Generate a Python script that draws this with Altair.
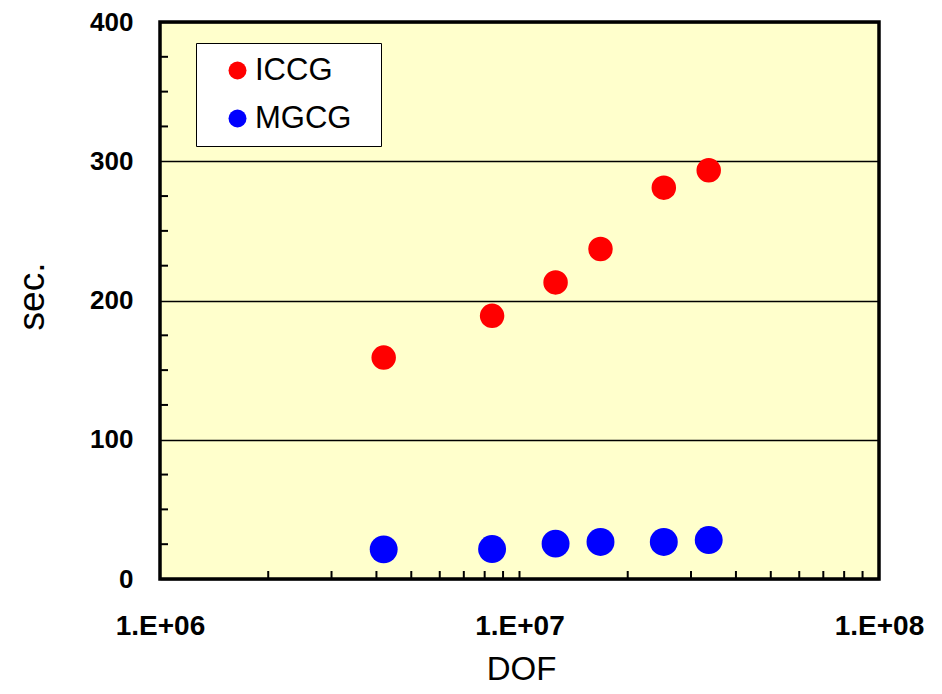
import altair as alt
import pandas as pd

# --- data ---
dof = [4.19e6, 8.39e6, 1.26e7, 1.68e7, 2.52e7, 3.36e7]
iccg = [159, 189, 213, 237, 281, 293.5]
mgcg = [21.3, 21.5, 25.4, 26.6, 26.6, 28]
series_names = ["ICCG", "MGCG"]
series_colors = ["#FF0000", "#0000FF"]

x_major = [1e6, 1e7, 1e8]
x_minor = [2e6, 3e6, 4e6, 5e6, 6e6, 7e6, 8e6, 9e6, 1e7,
           2e7, 3e7, 4e7, 5e7, 6e7, 7e7, 8e7, 9e7]
y_major = [0, 100, 200, 300, 400]
y_minor = [25, 50, 75, 125, 150, 175, 225, 250, 275, 325, 350, 375]

df = pd.DataFrame({
    "dof": dof * 2,
    "sec": iccg + mgcg,
    "series": ["ICCG"] * len(dof) + ["MGCG"] * len(dof),
})
xt = pd.DataFrame({"dof": x_minor})
yt = pd.DataFrame({"sec": y_minor})

FONT = "Liberation Sans"
W, H = 719, 557

xscale = alt.Scale(type="log", domain=[1e6, 1e8], nice=False)
yscale = alt.Scale(domain=[0, 400], nice=False, zero=True)
cscale = alt.Scale(domain=series_names, range=series_colors)

xaxis = alt.Axis(
    values=x_major, labelExpr="'1.E+0' + round(log(datum.value)/LN10)",
    grid=False, ticks=False, domain=False, labelPadding=33,
    labelFont=FONT, labelFontSize=28, labelFontWeight="bold", labelColor="black",
    title="DOF", titleFont=FONT, titleFontSize=33, titleFontWeight="normal",
    titleColor="black", titleX=361, titleY=100, titleBaseline="alphabetic",
    labelFlush=False, labelOverlap=False,
)
yaxis = alt.Axis(
    values=y_major, grid=True, gridColor="black", gridWidth=1.6, gridOpacity=1,
    ticks=False, domain=False, labelPadding=27,
    labelFont=FONT, labelFontSize=26, labelFontWeight="bold", labelColor="black",
    title="sec.", titleFont=FONT, titleFontSize=37, titleFontWeight="normal",
    titleColor="black", titleAngle=270, titleX=-117, titleY=274,
    titleAlign="center", titleBaseline="alphabetic",
)

legend = alt.Legend(
    title="\u00a0", titleOrient="right", titleFontSize=2, titlePadding=18,
    orient="none", legendX=36, legendY=21,
    fillColor="white", strokeColor="black", padding=12,
    symbolType="circle", symbolSize=324, symbolStrokeWidth=0, symbolOffset=14,
    labelFont=FONT, labelFontSize=31, labelColor="black", labelOffset=2,
    rowPadding=16,
)

X = alt.X("dof:Q", scale=xscale, axis=xaxis)
Y = alt.Y("sec:Q", scale=yscale, axis=yaxis)

iccg_layer = alt.Chart(df).transform_filter(alt.datum.series == "ICCG").mark_circle(
    size=600, opacity=1
).encode(x=X, y=Y, color=alt.Color("series:N", scale=cscale, legend=legend))
mgcg_layer = alt.Chart(df).transform_filter(alt.datum.series == "MGCG").mark_circle(
    size=780, opacity=1
).encode(x=X, y=Y, color=alt.Color("series:N", scale=cscale, legend=legend))

xtick_layer = alt.Chart(xt).mark_rule(color="black", strokeWidth=2).encode(
    x=X, y=alt.value(H), y2=alt.value(H - 8),
)
ytick_layer = alt.Chart(yt).mark_rule(color="black", strokeWidth=2).encode(
    y=Y, x=alt.value(0), x2=alt.value(8),
)

chart = alt.layer(iccg_layer, mgcg_layer, xtick_layer, ytick_layer).properties(
    width=W, height=H,
    autosize=alt.AutoSizeParams(type="none"),
    padding={"left": 152, "top": 14, "right": 55, "bottom": 107},
    background="white",
).configure_view(
    fill="#FFFFCC", stroke="black", strokeWidth=3.5
)

chart.save("out.html", embed_options={"renderer": "svg", "actions": False})
